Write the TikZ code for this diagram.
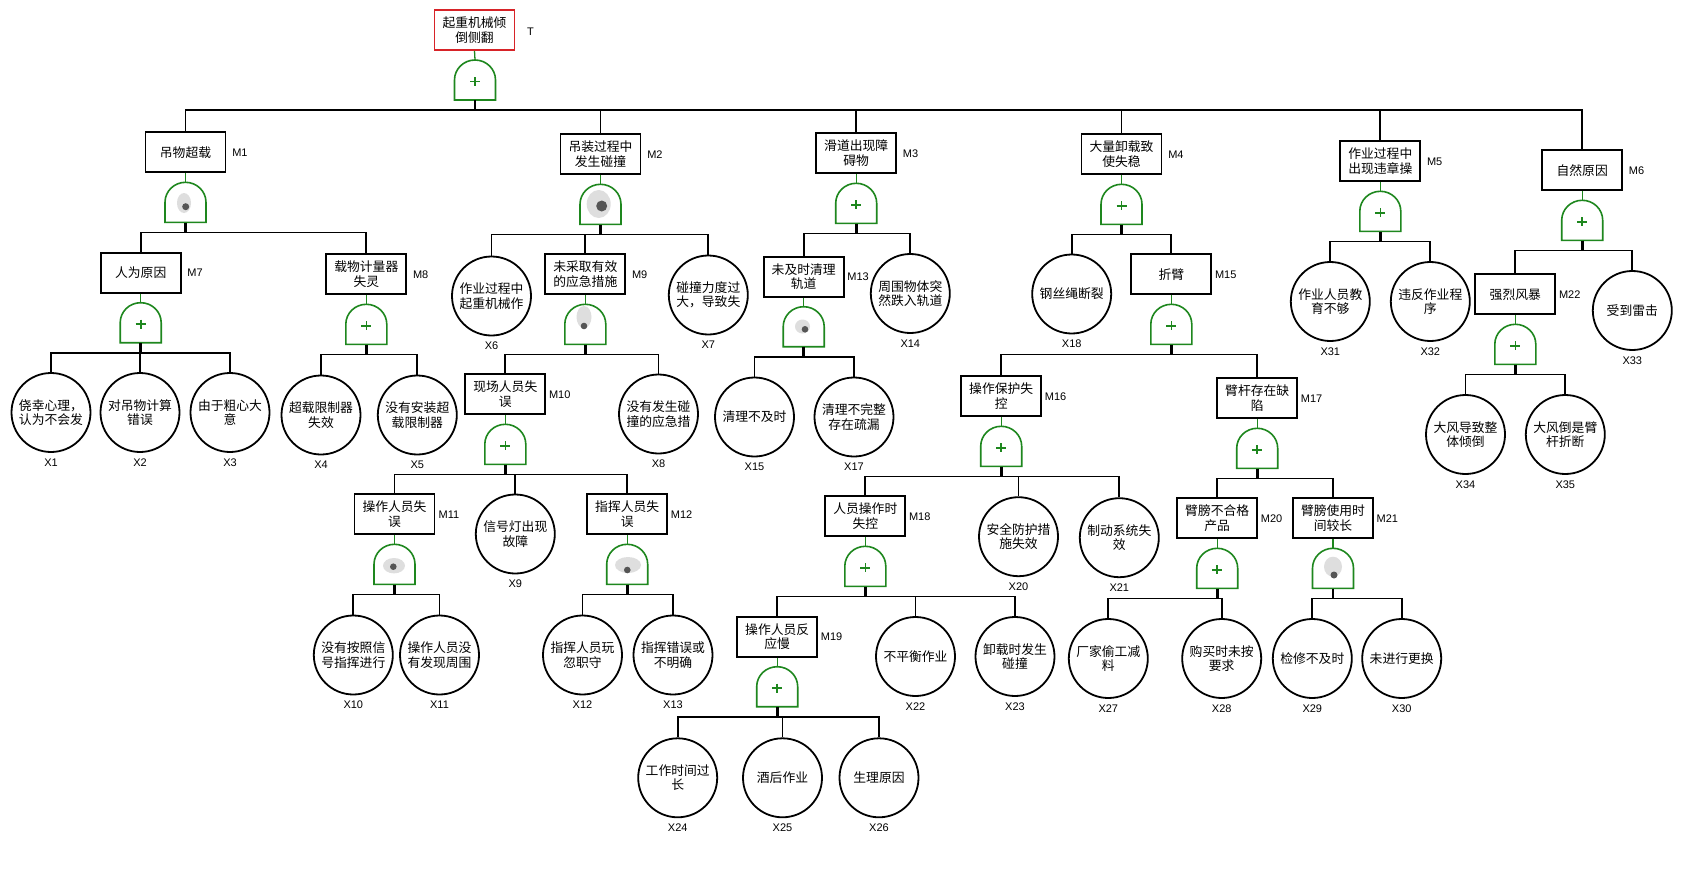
\documentclass[tikz,border=0pt]{standalone}
\usepackage{fontspec}
\setmainfont{Liberation Sans}
\newfontfamily\ftcjk{Noto Sans CJK SC}
\definecolor{tgreen}{RGB}{30,135,30}
\definecolor{tred}{RGB}{215,35,40}
\definecolor{blobc}{RGB}{222,222,222}
\definecolor{dotc}{RGB}{85,85,85}
\newcommand\ftcjkfont{\ftcjk\fontsize{12.8}{14.5}\selectfont}
\newcommand\ftlblfont{\fontsize{11}{13}\selectfont}
\tikzset{
  box/.style={draw=black, line width=1.8pt, fill=white, minimum width=80pt, minimum height=40pt, inner sep=1pt, align=center, font=\ftcjkfont},
  evt/.style={circle, draw=black, line width=1.8pt, fill=white, minimum size=79pt, inner sep=0pt, align=center, font=\ftcjkfont},
  lbl/.style={font=\ftlblfont, inner sep=0pt},
  gatenode/.style={rectangle, minimum width=41pt, minimum height=40pt, inner sep=0pt},
  gateline/.style={draw=tgreen, line width=1.6pt, fill=white},
  link/.style={draw=tgreen, line width=1.3pt},
  stub/.style={draw=black, line width=2.6pt},
  bus/.style={draw=black, line width=1.7pt, line join=miter},
  plus/.style={draw=tgreen, line width=1.6pt},
}
\newcommand\ftgate[3]{%
  \node[gatenode] (#1) at (#2,#3+20) {};
  \draw[gateline] (#2-20.5,#3+40) -- (#2-20.5,#3+20)
    .. controls (#2-20.5,#3+8.9) and (#2-11.3,#3) .. (#2,#3)
    .. controls (#2+11.3,#3) and (#2+20.5,#3+8.9) .. (#2+20.5,#3+20)
    -- (#2+20.5,#3+40) -- cycle;
}
\newcommand\ftor[1]{%
  \draw[plus] ([xshift=-5pt,yshift=-1.5pt]#1.center) -- ([xshift=5pt,yshift=-1.5pt]#1.center)
    ([yshift=3pt]#1.center) -- ([yshift=-6pt]#1.center);
}
\newcommand\ftnone[1]{}
\newcommand\ftbox[5]{%
  \node[box] (#1) at (#2,#3) {#4};
  \node[lbl] (#1l) at ([xshift=13.5pt]#1.east) {#1};
  \ftgate{#1g}{#2}{#3+30}
  \draw[link] (#1.south) -- (#1g.north);
  \draw[stub] (#1g.south) -- ++(0,10);
  \csname ft#5\endcsname{#1g}
}
\newcommand\ftx[4]{%
  \node[evt] (#1) at (#2,#3) {#4};
  \node[lbl] (#1l) at ([yshift=-50pt]#1.center) {#1};
}
\begin{document}
\begin{tikzpicture}[x=1pt,y=-1pt]
\fill[white] (0,0) rectangle (1682,878);
\useasboundingbox (0,0) rectangle (1682,878);

% top event
\node[box, draw=tred] (T) at (474.5,30) {起重机械倾\\倒侧翻};
\node[lbl] (Tl) at ([xshift=15pt,yshift=-1.5pt]T.east) {T};
\ftgate{Tg}{475}{60}
\draw[link] (T.south) -- (Tg.north);
\draw[stub] (Tg.south) -- ++(0,10);
\ftor{Tg}

% intermediate events
\ftbox{M1}{185.5}{152.3}{吊物超载}{none}
\ftbox{M2}{600.5}{154.3}{吊装过程中\\发生碰撞}{none}
\ftbox{M3}{856.2}{153.3}{滑道出现障\\碍物}{or}
\ftbox{M4}{1121.5}{154.3}{大量卸载致\\使失稳}{or}
\ftbox{M5}{1380.3}{161.3}{作业过程中\\出现违章操}{or}
\ftbox{M6}{1582.2}{170.3}{自然原因}{or}
\ftbox{M7}{140.7}{272.7}{人为原因}{or}
\ftbox{M8}{366.3}{274.3}{载物计量器\\失灵}{or}
\ftbox{M9}{585.3}{274.3}{未采取有效\\的应急措施}{none}
\ftbox{M10}{505.3}{394.3}{现场人员失\\误}{or}
\ftbox{M11}{394.5}{514.3}{操作人员失\\误}{none}
\ftbox{M12}{627.2}{514.3}{指挥人员失\\误}{none}
\ftbox{M13}{803.7}{276.7}{未及时清理\\轨道}{none}
\ftbox{M15}{1171.3}{274.3}{折臂}{or}
\ftbox{M16}{1001.2}{396.3}{操作保护失\\控}{or}
\ftbox{M17}{1257.2}{398.3}{臂杆存在缺\\陷}{or}
\ftbox{M18}{865.3}{516.3}{人员操作时\\失控}{or}
\ftbox{M19}{777.2}{636.7}{操作人员反\\应慢}{or}
\ftbox{M20}{1217.2}{518.3}{臂膀不合格\\产品}{or}
\ftbox{M21}{1333}{518.3}{臂膀使用时\\间较长}{none}
\ftbox{M22}{1515.3}{294.3}{强烈风暴}{or}

% AND gate marks
\fill[blobc] (184,203) ellipse [x radius=7, y radius=10];
\fill[dotc] (185.7,206.7) circle [radius=3.5];
\fill[blobc] (598.7,204) ellipse [x radius=12, y radius=14];
\fill[dotc] (601.7,206) circle [radius=5.5];
\fill[blobc] (584,317) ellipse [x radius=7.5, y radius=11];
\fill[dotc] (584,326) circle [radius=3.3];
\fill[blobc] (394,565.7) ellipse [x radius=11, y radius=7.7];
\fill[dotc] (393.3,566.7) circle [radius=3.3];
\fill[blobc] (628,565) ellipse [x radius=13, y radius=8];
\fill[dotc] (627.3,570) circle [radius=3.3];
\fill[blobc] (802.5,326.5) ellipse [x radius=7.5, y radius=7];
\fill[dotc] (805,329.3) circle [radius=3.3];
\fill[blobc] (1333,566.7) ellipse [x radius=9, y radius=10];
\fill[dotc] (1334,575) circle [radius=3.5];

% basic events
\ftx{X1}{51}{412.5}{侥幸心理，\\认为不会发}
\ftx{X2}{140}{412.5}{对吊物计算\\错误}
\ftx{X3}{230}{412.5}{由于粗心大\\意}
\ftx{X4}{321}{415}{超载限制器\\失效}
\ftx{X5}{417.3}{415}{没有安装超\\载限制器}
\ftx{X6}{491.5}{296}{作业过程中\\起重机械作}
\ftx{X7}{708.3}{295}{碰撞力度过\\大，导致失}
\ftx{X8}{658.5}{414}{没有发生碰\\撞的应急措}
\ftx{X9}{515.3}{534}{信号灯出现\\故障}
\ftx{X10}{353.3}{655}{没有按照信\\号指挥进行}
\ftx{X11}{439.5}{655}{操作人员没\\有发现周围}
\ftx{X12}{582.5}{655}{指挥人员玩\\忽职守}
\ftx{X13}{673}{655}{指挥错误或\\不明确}
\ftx{X14}{910.3}{293.5}{周围物体突\\然跌入轨道}
\ftx{X15}{754.5}{417}{清理不及时}
\ftx{X17}{854}{417}{清理不完整\\存在疏漏}
\ftx{X18}{1071.7}{294}{钢丝绳断裂}
\ftx{X20}{1018.5}{536.7}{安全防护措\\施失效}
\ftx{X21}{1119.3}{537.7}{制动系统失\\效}
\ftx{X22}{915.5}{656.5}{不平衡作业}
\ftx{X23}{1015}{656.5}{卸载时发生\\碰撞}
\ftx{X24}{677.7}{777.8}{工作时间过\\长}
\ftx{X25}{782.5}{777.8}{酒后作业}
\ftx{X26}{879}{777.8}{生理原因}
\ftx{X27}{1108.3}{658.5}{厂家偷工减\\料}
\ftx{X28}{1221.7}{658.5}{购买时未按\\要求}
\ftx{X29}{1312.3}{658.5}{检修不及时}
\ftx{X30}{1401.7}{658.5}{未进行更换}
\ftx{X31}{1330.3}{301.5}{作业人员教\\育不够}
\ftx{X32}{1430.3}{301.5}{违反作业程\\序}
\ftx{X33}{1632.3}{310.5}{受到雷击}
\ftx{X34}{1465.5}{434.5}{大风导致整\\体倾倒}
\ftx{X35}{1565.3}{434.5}{大风倒是臂\\杆折断}

% connectors
\foreach \c in {M1,M2,M3,M4,M5,M6} \draw[bus] (Tg.south) ++(0,10) -| (\c.north);
\foreach \c in {M7,M8} \draw[bus] (M1g.south) ++(0,10) -| (\c.north);
\foreach \c in {X6,M9,X7} \draw[bus] (M2g.south) ++(0,10) -| (\c.north);
\foreach \c in {M13,X14} \draw[bus] (M3g.south) ++(0,10) -| (\c.north);
\foreach \c in {X18,M15} \draw[bus] (M4g.south) ++(0,10) -| (\c.north);
\foreach \c in {X31,X32} \draw[bus] (M5g.south) ++(0,10) -| (\c.north);
\foreach \c in {M22,X33} \draw[bus] (M6g.south) ++(0,10) -| (\c.north);
\foreach \c in {X1,X2,X3} \draw[bus] (M7g.south) ++(0,10) -| (\c.north);
\foreach \c in {X4,X5} \draw[bus] (M8g.south) ++(0,10) -| (\c.north);
\foreach \c in {M10,X8} \draw[bus] (M9g.south) ++(0,10) -| (\c.north);
\foreach \c in {M11,X9,M12} \draw[bus] (M10g.south) ++(0,10) -| (\c.north);
\foreach \c in {X10,X11} \draw[bus] (M11g.south) ++(0,10) -| (\c.north);
\foreach \c in {X12,X13} \draw[bus] (M12g.south) ++(0,10) -| (\c.north);
\foreach \c in {X15,X17} \draw[bus] (M13g.south) ++(0,10) -| (\c.north);
\foreach \c in {M16,M17} \draw[bus] (M15g.south) ++(0,10) -| (\c.north);
\foreach \c in {M18,X20,X21} \draw[bus] (M16g.south) ++(0,10) -| (\c.north);
\foreach \c in {M20,M21} \draw[bus] (M17g.south) ++(0,10) -| (\c.north);
\foreach \c in {M19,X22,X23} \draw[bus] (M18g.south) ++(0,10) -| (\c.north);
\foreach \c in {X24,X25,X26} \draw[bus] (M19g.south) ++(0,10) -| (\c.north);
\foreach \c in {X27,X28} \draw[bus] (M20g.south) ++(0,10) -| (\c.north);
\foreach \c in {X29,X30} \draw[bus] (M21g.south) ++(0,10) -| (\c.north);
\foreach \c in {X34,X35} \draw[bus] (M22g.south) ++(0,10) -| (\c.north);
\end{tikzpicture}
\end{document}
